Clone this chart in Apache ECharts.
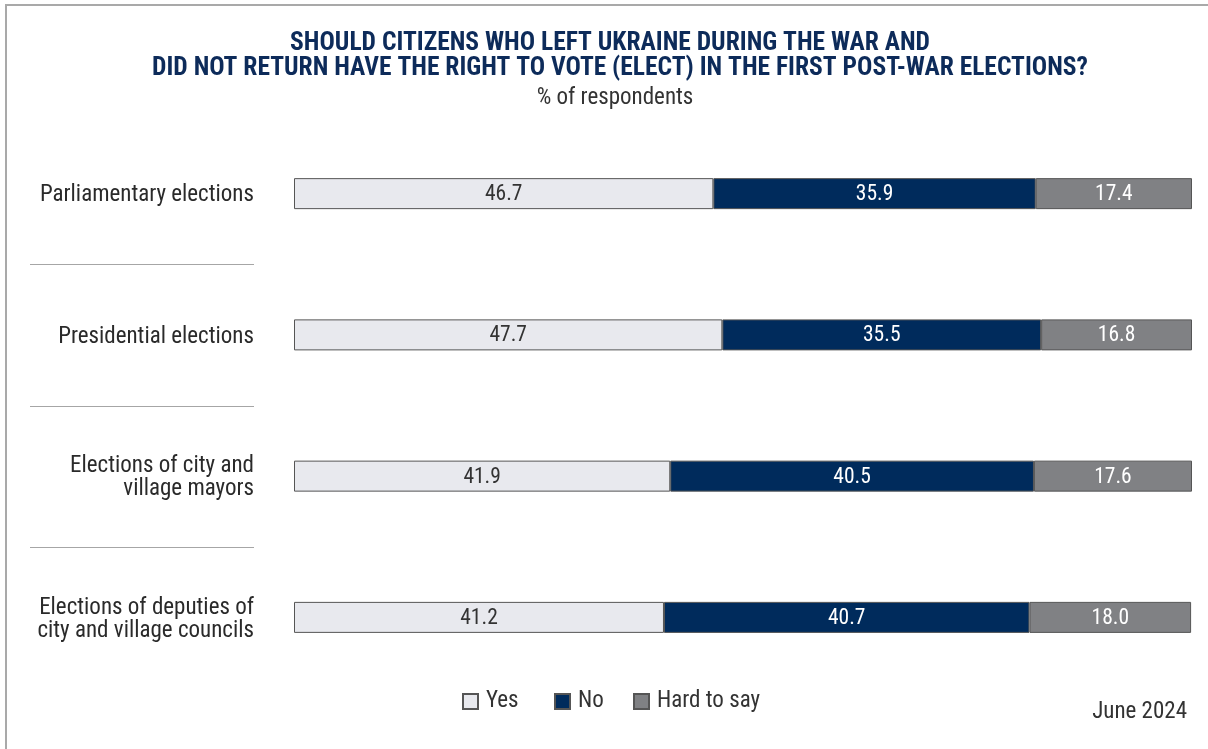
<!DOCTYPE html>
<html>
<head>
<meta charset="utf-8">
<script src="https://cdn.jsdelivr.net/npm/echarts@6/dist/echarts.min.js"></script>
<style>
  html, body { margin: 0; padding: 0; background: #fff; }
  #chart { width: 1208px; height: 749px; }
</style>
</head>
<body>
<div id="chart"></div>
<script>
// Survey questions (top to bottom)
const categories = [
  'Parliamentary elections',
  'Presidential elections',
  'Elections of city and\nvillage mayors',
  'Elections of deputies of\ncity and village councils'
];
const seriesNames = ['Yes', 'No', 'Hard to say'];
const yesValues = [46.7, 47.7, 41.9, 41.2];
const noValues = [35.9, 35.5, 40.5, 40.7];
const hardValues = [17.4, 16.8, 17.6, 18.0];

const titleLines = [
  'SHOULD CITIZENS WHO LEFT UKRAINE DURING THE WAR AND',
  'DID NOT RETURN HAVE THE RIGHT TO VOTE (ELECT) IN THE FIRST POST-WAR ELECTIONS?'
];

const colors = ['#e8e9ee', '#002b5c', '#808184'];
const labelColors = ['#333333', '#ffffff', '#ffffff'];
const narrowFont = '"Liberation Sans Narrow", "Roboto Condensed", Roboto, sans-serif';

const chart = echarts.init(document.getElementById('chart'), null, { renderer: 'canvas' });

function makeSeries(name, data, idx) {
  return {
    name: name,
    type: 'bar',
    stack: 'total',
    barWidth: 31,
    data: data,
    itemStyle: { color: colors[idx], borderColor: '#555555', borderWidth: 1 },
    label: {
      show: true,
      position: 'inside',
      offset: [0, 1],
      formatter: (p) => p.value.toFixed(1),
      color: labelColors[idx],
      fontFamily: narrowFont,
      fontSize: 21.5
    },
    emphasis: { disabled: true }
  };
}

// One legend block per answer so each key sits at its own spot
const legendLefts = [462, 554, 633];
const legends = seriesNames.map((name, i) => ({
  data: [name],
  left: legendLefts[i],
  top: 690,
  padding: 0,
  itemWidth: 15,
  itemHeight: 15,
  icon: 'rect',
  selectedMode: false,
  textStyle: {
    fontFamily: narrowFont,
    fontSize: 23,
    color: '#333333',
    padding: [0, 0, 0, 3]
  }
}));

const titleStyle = {
  fontFamily: narrowFont,
  fontWeight: 'bold',
  fontSize: 25.5,
  lineHeight: 25,
  color: '#0d2b5a'
};

// Category labels are wrapped in a rich style so they can be nudged down slightly
const labelFormatter = (v) => v.split('\n').map((s) => '{c|' + s + '}').join('\n');

const option = {
  backgroundColor: '#ffffff',
  animation: false,
  title: [
    { text: titleLines[0], left: 610, textAlign: 'center', top: 31, padding: 0, textStyle: titleStyle },
    { text: titleLines[1], left: 620, textAlign: 'center', top: 56, padding: 0, textStyle: titleStyle },
    {
      text: '% of respondents',
      left: 610,
      textAlign: 'center',
      top: 82,
      textStyle: {
        fontFamily: narrowFont,
        fontWeight: 'normal',
        fontSize: 23,
        lineHeight: 23,
        color: '#333333'
      }
    }
  ],
  legend: legends,
  grid: {
    left: 294,
    right: 16,
    top: 123,
    bottom: 61,
    containLabel: false
  },
  xAxis: {
    type: 'value',
    min: 0,
    max: 100,
    show: false
  },
  yAxis: {
    type: 'category',
    inverse: true,
    data: categories,
    axisLine: { show: false },
    axisTick: { show: false },
    axisLabel: {
      margin: 40,
      align: 'right',
      formatter: labelFormatter,
      rich: {
        c: {
          fontFamily: narrowFont,
          fontSize: 23,
          lineHeight: 23,
          color: '#2a2a2a',
          padding: [4, 0, 0, 0]
        }
      }
    }
  },
  series: [
    makeSeries('Yes', yesValues, 0),
    makeSeries('No', noValues, 1),
    makeSeries('Hard to say', hardValues, 2)
  ]
};

chart.setOption(option);

// Separator rules between question rows, placed halfway between category centres
const sepLines = [];
for (let i = 0; i < categories.length - 1; i++) {
  const y1 = chart.convertToPixel({ yAxisIndex: 0 }, categories[i]);
  const y2 = chart.convertToPixel({ yAxisIndex: 0 }, categories[i + 1]);
  const y = Math.round((y1 + y2) / 2) + 0.5;
  sepLines.push({
    type: 'line',
    shape: { x1: 30, y1: y, x2: 254, y2: y },
    style: { stroke: '#a6a6a6', lineWidth: 1 },
    silent: true
  });
}

chart.setOption({
  graphic: [
    {
      type: 'rect',
      shape: { x: 6, y: 5, width: 1220, height: 760 },
      style: { fill: 'none', stroke: '#a9a9a9', lineWidth: 2 },
      silent: true
    },
    ...sepLines,
    {
      type: 'text',
      right: 21,
      top: 701,
      style: {
        text: 'June 2024',
        fontFamily: narrowFont,
        fontSize: 23,
        fill: '#333333'
      },
      silent: true
    }
  ]
});
</script>
</body>
</html>
